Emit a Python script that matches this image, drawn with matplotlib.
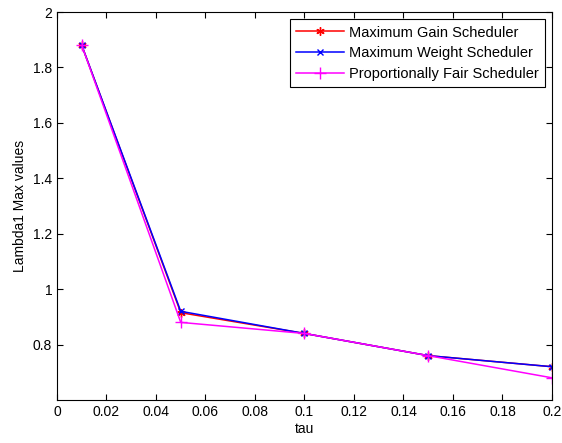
import matplotlib
matplotlib.use("Agg")
import matplotlib.pyplot as plt

plt.rcParams["font.family"] = ["Liberation Sans", "DejaVu Sans"]
plt.rcParams["font.size"] = 10

tau = [0.01, 0.05, 0.1, 0.15, 0.2]
gain = [1.88, 0.915, 0.84, 0.76, 0.72]
weight = [1.88, 0.92, 0.84, 0.76, 0.72]
fair = [1.88, 0.88, 0.84, 0.76, 0.68]

fig = plt.figure(figsize=(5.62, 4.43), dpi=100)
ax = fig.add_axes([0.1014, 0.0971, 0.8808, 0.8758])

ax.plot(tau, gain, color="red", marker=(6, 2, 0), markersize=6, lw=1.1, label="Maximum Gain Scheduler")
ax.plot(tau, weight, color="blue", marker="x", markersize=5, lw=1.1, label="Maximum Weight Scheduler")
ax.plot(tau, fair, color="magenta", marker="+", markersize=9, lw=1.1, label="Proportionally Fair Scheduler")

ax.set_xlim(0, 0.2)
ax.set_ylim(0.6, 2)
ax.set_xticks([0, 0.02, 0.04, 0.06, 0.08, 0.1, 0.12, 0.14, 0.16, 0.18, 0.2])
ax.set_xticklabels(["0", "0.02", "0.04", "0.06", "0.08", "0.1", "0.12", "0.14", "0.16", "0.18", "0.2"])
ax.set_yticks([0.8, 1, 1.2, 1.4, 1.6, 1.8, 2])
ax.set_yticklabels(["0.8", "1", "1.2", "1.4", "1.6", "1.8", "2"])
ax.tick_params(direction="in", length=4, top=True, right=True)
ax.set_xlabel("tau", labelpad=2)
ax.set_ylabel("Lambda1 Max values", labelpad=4)

# legend box sits a few pixels inside the top-right corner
leg = ax.legend(loc="upper right", bbox_to_anchor=(545 / 562, 1 - 19 / 443),
                bbox_transform=fig.transFigure, borderaxespad=0,
                fancybox=False, edgecolor="black", framealpha=1,
                borderpad=0.45, labelspacing=0.45, handlelength=3.3,
                handletextpad=0.3, fontsize=10.5)
leg.get_frame().set_linewidth(0.8)

fig.savefig("out.png", dpi=100)
